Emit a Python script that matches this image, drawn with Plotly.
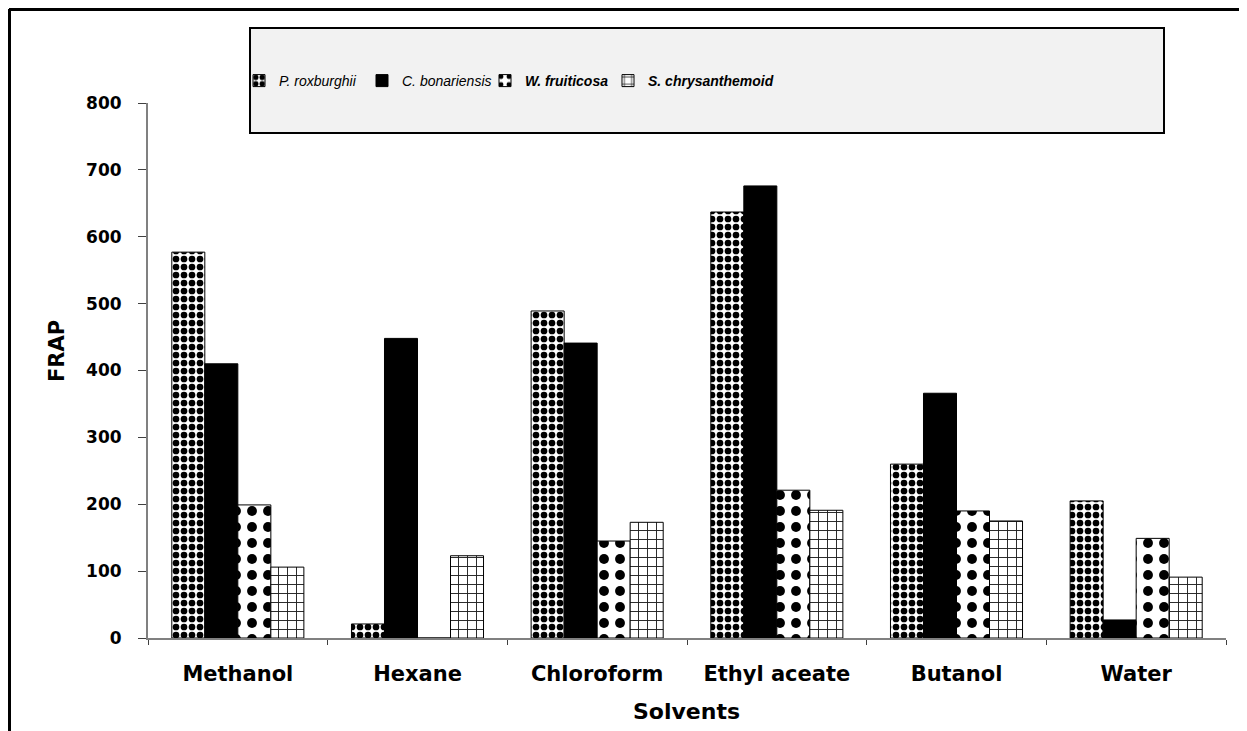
import plotly.graph_objects as go

solvents = ["Methanol", "Hexane", "Chloroform", "Ethyl aceate", "Butanol", "Water"]
p_roxburghii = [577, 21, 489, 637, 260, 205]
c_bonariensis = [410, 448, 441, 676, 366, 27]
w_fruiticosa = [199, 0, 145, 221, 190, 149]
s_chrysanthemoid = [106, 123, 173, 191, 175, 91]
y_ticks = [0, 100, 200, 300, 400, 500, 600, 700, 800]

FONT = "DejaVu Sans, Verdana, sans-serif"
LFONT = "Liberation Sans, Arial, sans-serif"

fig = go.Figure()
fig.add_trace(go.Bar(
    name="P. roxburghii", x=solvents, y=p_roxburghii,
    marker=dict(color="white", line=dict(color="black", width=1),
                pattern=dict(shape=".", fgcolor="black", bgcolor="white", size=8, solidity=0.55, fillmode="replace"))))
fig.add_trace(go.Bar(
    name="C. bonariensis", x=solvents, y=c_bonariensis,
    marker=dict(color="black", line=dict(color="black", width=1))))
fig.add_trace(go.Bar(
    name="<b>W. fruiticosa</b>", x=solvents, y=w_fruiticosa,
    marker=dict(color="white", line=dict(color="black", width=1),
                pattern=dict(shape=".", fgcolor="black", bgcolor="white", size=16, solidity=0.3, fillmode="replace"))))
fig.add_trace(go.Bar(
    name="<b>S. chrysanthemoid</b>", x=solvents, y=s_chrysanthemoid,
    marker=dict(color="white", line=dict(color="black", width=1),
                pattern=dict(shape="+", fgcolor="#222222", bgcolor="white", size=9, solidity=0.2, fillmode="replace"))))
# invisible spacer legend entry so the last legend label is not clipped
fig.add_trace(go.Scatter(
    name=" ", x=[None], y=[None], mode="none", showlegend=True, hoverinfo="skip"))

# page-pixel geometry (browser body has an 8px margin)
OFF = 8
L, R, T, B = 148, 1226, 103, 638
W, H = 1247 - OFF, 731 - OFF
pw, ph = R - L, B - T

def px(xp):
    return (xp - L) / pw

def py(yp):
    return (B - yp) / ph

fig.update_layout(
    width=W, height=H,
    margin=dict(l=L - OFF, r=W - (R - OFF), t=T - OFF, b=H - (B - OFF)),
    paper_bgcolor="white", plot_bgcolor="white",
    barmode="group", bargap=0.265, bargroupgap=0,
    font=dict(family=FONT, color="black"),
    showlegend=True,
    legend=dict(orientation="h", x=px(239), xanchor="left", y=py(81), yanchor="middle",
                bgcolor="rgba(0,0,0,0)", borderwidth=0,
                font=dict(family=LFONT, size=14, style="italic"),
                entrywidth=78, entrywidthmode="pixels", itemwidth=30),
    xaxis=dict(showline=True, linecolor="#808080", linewidth=2,
               ticks="outside", tickson="boundaries", ticklen=5, tickcolor="#404040",
               tickfont=dict(family=FONT, size=21, weight="bold"),
               ticklabelstandoff=16, showgrid=False),
    yaxis=dict(range=[0, 800], tickvals=y_ticks, showline=True, linecolor="#808080", linewidth=2,
               ticks="outside", ticklen=8, tickcolor="#404040",
               tickfont=dict(family=FONT, size=17, weight="bold"),
               ticklabelstandoff=13, showgrid=False, zeroline=False),
    shapes=[
        dict(type="rect", xref="paper", yref="paper", x0=px(250), x1=px(1164), y0=py(133), y1=py(28),
             fillcolor="#f2f2f2", line=dict(color="black", width=2), layer="below"),
        dict(type="line", xref="paper", yref="paper", x0=px(9), x1=px(1260), y0=py(9.5), y1=py(9.5),
             line=dict(color="black", width=3)),
        dict(type="line", xref="paper", yref="paper", x0=px(9.5), x1=px(9.5), y0=py(9), y1=py(760),
             line=dict(color="black", width=3)),
    ],
    annotations=[
        dict(text="<b>FRAP</b>", xref="paper", yref="paper", x=px(57), y=py(351), textangle=-90,
             xanchor="center", yanchor="middle",
             showarrow=False, font=dict(family=FONT, size=21)),
        dict(text="<b>Solvents</b>", xref="paper", yref="paper", x=px(686), y=py(712),
             xanchor="center", yanchor="middle",
             showarrow=False, font=dict(family=FONT, size=22)),
    ],
)

fig.write_html("out.html")
